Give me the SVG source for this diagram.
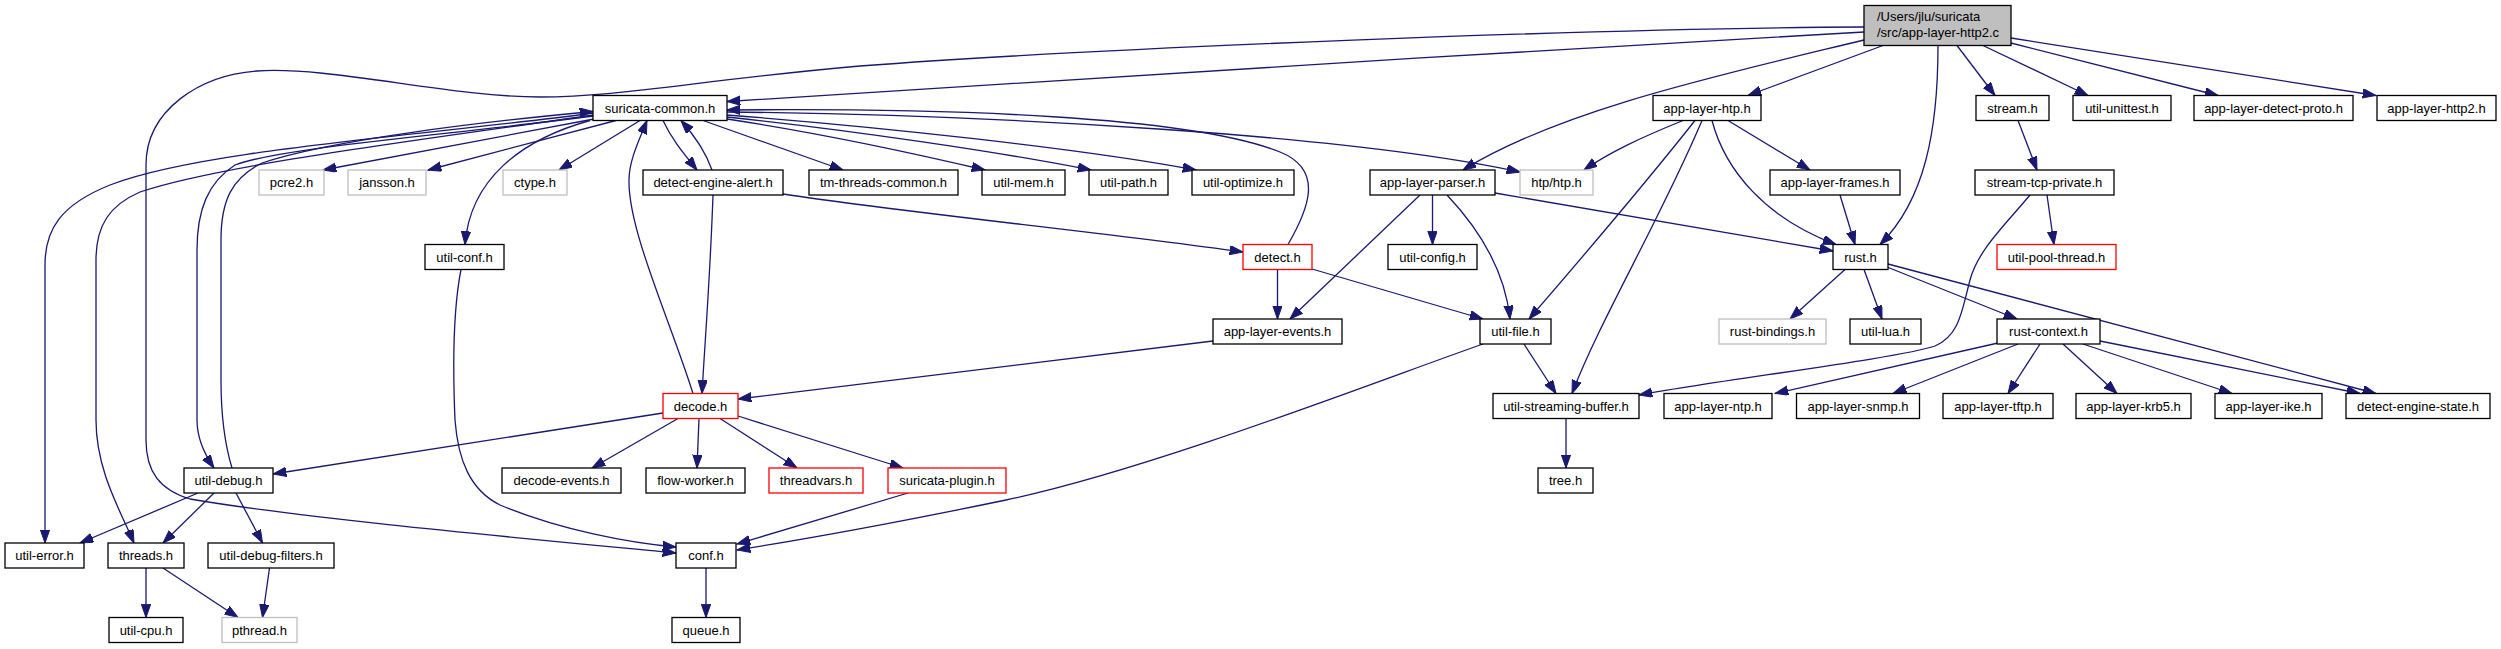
<svg xmlns="http://www.w3.org/2000/svg" width="2501" height="649" viewBox="0 0 2501 649">
<style>
.n rect{fill:#ffffff;stroke:#000000;stroke-width:1.3}
.g rect{fill:#ffffff;stroke:#bfbfbf;stroke-width:1.3}
.r rect{fill:#ffffff;stroke:#ff0000;stroke-width:1.3}
.rt rect{fill:#bfbfbf;stroke:#000000;stroke-width:1.3}
text{font-family:"Liberation Sans",Arial,Helvetica,sans-serif;font-size:13px;fill:#000000}
.c{text-anchor:middle}
#edges path{fill:none;stroke:#191970;stroke-width:1.3;marker-end:url(#ah)}
</style>
<defs>
<marker id="ah" markerUnits="userSpaceOnUse" markerWidth="14" markerHeight="10" viewBox="0 0 14 10" refX="13.3" refY="4.7" orient="auto"><path d="M0,0 L13.3,4.7 L0,9.4 z" fill="#191970" stroke="#191970" stroke-width="1"/></marker>
</defs>
<rect width="2501" height="649" fill="#ffffff"/>
<g id="edges">
<path d="M1864,32 C1500,52 1000,84 727,101.5"/>
<path d="M1864,27 C1600,28 1100,48 860,66 C700,80 620,97 540,97 C450,97 330,66 257,71 C200,75 146,110 146,165 L146,440 C146,472 160,490 190,499 C300,518 520,538 676,553"/>
<path d="M1864,40 C1720,75 1560,110 1463,170"/>
<path d="M1883,45.5 L1748,95.5"/>
<path d="M1938,45.5 C1938,130 1925,200 1880,244.5"/>
<path d="M1957,45.5 L1995,95.5"/>
<path d="M1983,45.5 L2088,95.5"/>
<path d="M2011,43 L2218,95.5"/>
<path d="M2011,38 L2376,95.5"/>
<path d="M594,119 L323,170"/>
<path d="M616,120.5 L428,170"/>
<path d="M640,120.5 L559,170"/>
<path d="M590,120.5 C520,140 470,180 465,244.5"/>
<path d="M663,120.5 C672,140 685,155 697,170"/>
<path d="M712,170 C705,150 694,135 681,120.5"/>
<path d="M703,120.5 L843,170"/>
<path d="M727,119 C800,130 900,150 985,170"/>
<path d="M727,117 C850,130 1000,152 1091,170"/>
<path d="M727,115 C870,126 1080,148 1196,170"/>
<path d="M727,112 C1000,115 1350,135 1520,172"/>
<path d="M1288,244.5 C1308,210 1325,170 1280,152 C1190,116 950,108 727,110"/>
<path d="M594,116 C420,138 280,148 235,165 C208,182 197,210 197,250 L197,420 C197,440 205,455 214,468"/>
<path d="M232,468 C225,445 221,420 221,380 L221,240 C221,200 232,178 262,163 C330,140 480,122 593,111.5"/>
<path d="M594,115 C420,140 220,165 140,192 C110,205 96,225 96,260 L96,420 C96,470 120,510 134,543"/>
<path d="M594,113 C420,136 200,150 110,185 C60,205 45,230 45,265 L45,543"/>
<path d="M713,195 C710,280 705,340 702,393.5"/>
<path d="M783,194 C900,212 1100,232 1243,252"/>
<path d="M693,393.5 C670,320 628,230 629,180 C629,160 640,138 647,120.5"/>
<path d="M1277.5,269.5 L1277.5,319"/>
<path d="M1312,269 L1483,319"/>
<path d="M1420,195 L1290,319"/>
<path d="M1432.5,195 L1432.5,244.5"/>
<path d="M1447,195 C1480,230 1505,270 1510,319"/>
<path d="M1495,193 L1833,251"/>
<path d="M1683,120.5 C1640,138 1610,152 1584,170"/>
<path d="M1695,120.5 C1640,190 1580,260 1529,319"/>
<path d="M1702,120.5 C1660,220 1600,320 1572,393.5"/>
<path d="M1712,120.5 C1725,170 1765,218 1836,244.5"/>
<path d="M1728,120.5 L1810,170"/>
<path d="M1840,195 L1855,244.5"/>
<path d="M2018,120.5 L2037,170"/>
<path d="M2047,195 L2054,244.5"/>
<path d="M2030,195 C2005,225 1978,250 1970,280 C1962,310 1960,335 1935,346 C1900,358 1720,380 1639,395"/>
<path d="M1845,269.5 L1790,319"/>
<path d="M1864,269.5 L1882,319"/>
<path d="M1887,267 L2017,319"/>
<path d="M1888,264 L2376,393.5"/>
<path d="M1998,343 L1775,393.5"/>
<path d="M2018,344 L1893,393.5"/>
<path d="M2040,344 L2008,393.5"/>
<path d="M2063,344 L2117,393.5"/>
<path d="M2083,344 L2232,393.5"/>
<path d="M2100,341 L2360,393.5"/>
<path d="M1524,344 L1556,393.5"/>
<path d="M1483,344 C1380,380 1150,470 1006,500 C900,522 800,540 737,550"/>
<path d="M908,493 L737,544"/>
<path d="M461,269.5 C455,300 452,350 455,420 C458,460 470,490 500,505 C560,530 630,543 676,547"/>
<path d="M1566,418.5 L1566,468"/>
<path d="M706,568 L706,617.5"/>
<path d="M1213,341 L738,399"/>
<path d="M663,413 L273,474"/>
<path d="M678,418.5 L592,468"/>
<path d="M699,418.5 L697,468"/>
<path d="M720,418.5 L797,468"/>
<path d="M738,416 L903,468"/>
<path d="M198,493 L80,543"/>
<path d="M214,493 L163,543"/>
<path d="M236,493 L262.5,543"/>
<path d="M146,568 L146,617.5"/>
<path d="M163,568 L238,617.5"/>
<path d="M269.5,568 L262.5,617.5"/>
</g>
<g id="root" class="rt"><rect x="1864" y="5.5" width="147" height="40"/><text x="1877" y="21">/Users/jlu/suricata</text><text x="1877" y="36.5">/src/app-layer-http2.c</text></g>
<g id="suricata-common" class="n"><rect x="593" y="95.5" width="134" height="25"/><text class="c" x="660" y="112.5">suricata-common.h</text></g>
<g id="app-layer-htp" class="n"><rect x="1653" y="95.5" width="108" height="25"/><text class="c" x="1707" y="112.5">app-layer-htp.h</text></g>
<g id="stream" class="n"><rect x="1976" y="95.5" width="73" height="25"/><text class="c" x="2012.5" y="112.5">stream.h</text></g>
<g id="util-unittest" class="n"><rect x="2073" y="95.5" width="98" height="25"/><text class="c" x="2122" y="112.5">util-unittest.h</text></g>
<g id="app-layer-detect-proto" class="n"><rect x="2194" y="95.5" width="159" height="25"/><text class="c" x="2273.5" y="112.5">app-layer-detect-proto.h</text></g>
<g id="app-layer-http2" class="n"><rect x="2377" y="95.5" width="119" height="25"/><text class="c" x="2436.5" y="112.5">app-layer-http2.h</text></g>
<g id="pcre2" class="g"><rect x="259" y="170" width="65" height="25"/><text class="c" x="291.5" y="187">pcre2.h</text></g>
<g id="jansson" class="g"><rect x="348" y="170" width="78" height="25"/><text class="c" x="387" y="187">jansson.h</text></g>
<g id="ctype" class="g"><rect x="503" y="170" width="64" height="25"/><text class="c" x="535" y="187">ctype.h</text></g>
<g id="detect-engine-alert" class="n"><rect x="643" y="170" width="140" height="25"/><text class="c" x="713" y="187">detect-engine-alert.h</text></g>
<g id="tm-threads-common" class="n"><rect x="809" y="170" width="149" height="25"/><text class="c" x="883.5" y="187">tm-threads-common.h</text></g>
<g id="util-mem" class="n"><rect x="982" y="170" width="83" height="25"/><text class="c" x="1023.5" y="187">util-mem.h</text></g>
<g id="util-path" class="n"><rect x="1089" y="170" width="79" height="25"/><text class="c" x="1128.5" y="187">util-path.h</text></g>
<g id="util-optimize" class="n"><rect x="1192" y="170" width="102" height="25"/><text class="c" x="1243" y="187">util-optimize.h</text></g>
<g id="app-layer-parser" class="n"><rect x="1370" y="170" width="125" height="25"/><text class="c" x="1432.5" y="187">app-layer-parser.h</text></g>
<g id="htp-htp" class="g"><rect x="1520" y="170" width="73" height="25"/><text class="c" x="1556.5" y="187">htp/htp.h</text></g>
<g id="app-layer-frames" class="n"><rect x="1770" y="170" width="130" height="25"/><text class="c" x="1835" y="187">app-layer-frames.h</text></g>
<g id="stream-tcp-private" class="n"><rect x="1975" y="170" width="139" height="25"/><text class="c" x="2044.5" y="187">stream-tcp-private.h</text></g>
<g id="util-conf" class="n"><rect x="425" y="244.5" width="79" height="25"/><text class="c" x="464.5" y="261.5">util-conf.h</text></g>
<g id="detect" class="r"><rect x="1243" y="244.5" width="69" height="25"/><text class="c" x="1277.5" y="261.5">detect.h</text></g>
<g id="util-config" class="n"><rect x="1388" y="244.5" width="89" height="25"/><text class="c" x="1432.5" y="261.5">util-config.h</text></g>
<g id="rust" class="n"><rect x="1833" y="244.5" width="55" height="25"/><text class="c" x="1860.5" y="261.5">rust.h</text></g>
<g id="util-pool-thread" class="r"><rect x="1997" y="244.5" width="119" height="25"/><text class="c" x="2056.5" y="261.5">util-pool-thread.h</text></g>
<g id="app-layer-events" class="n"><rect x="1213" y="319" width="129" height="25"/><text class="c" x="1277.5" y="336">app-layer-events.h</text></g>
<g id="util-file" class="n"><rect x="1480" y="319" width="71" height="25"/><text class="c" x="1515.5" y="336">util-file.h</text></g>
<g id="rust-bindings" class="g"><rect x="1719" y="319" width="107" height="25"/><text class="c" x="1772.5" y="336">rust-bindings.h</text></g>
<g id="util-lua" class="n"><rect x="1850" y="319" width="71" height="25"/><text class="c" x="1885.5" y="336">util-lua.h</text></g>
<g id="rust-context" class="n"><rect x="1997" y="319" width="103" height="25"/><text class="c" x="2048.5" y="336">rust-context.h</text></g>
<g id="decode" class="r"><rect x="663" y="393.5" width="75" height="25"/><text class="c" x="700.5" y="410.5">decode.h</text></g>
<g id="util-streaming-buffer" class="n"><rect x="1493" y="393.5" width="146" height="25"/><text class="c" x="1566" y="410.5">util-streaming-buffer.h</text></g>
<g id="app-layer-ntp" class="n"><rect x="1664" y="393.5" width="108" height="25"/><text class="c" x="1718" y="410.5">app-layer-ntp.h</text></g>
<g id="app-layer-snmp" class="n"><rect x="1796.5" y="393.5" width="123" height="25"/><text class="c" x="1858" y="410.5">app-layer-snmp.h</text></g>
<g id="app-layer-tftp" class="n"><rect x="1943" y="393.5" width="110" height="25"/><text class="c" x="1998" y="410.5">app-layer-tftp.h</text></g>
<g id="app-layer-krb5" class="n"><rect x="2076" y="393.5" width="115" height="25"/><text class="c" x="2133.5" y="410.5">app-layer-krb5.h</text></g>
<g id="app-layer-ike" class="n"><rect x="2215" y="393.5" width="107" height="25"/><text class="c" x="2268.5" y="410.5">app-layer-ike.h</text></g>
<g id="detect-engine-state" class="n"><rect x="2346" y="393.5" width="144" height="25"/><text class="c" x="2418" y="410.5">detect-engine-state.h</text></g>
<g id="util-debug" class="n"><rect x="184" y="468" width="89" height="25"/><text class="c" x="228.5" y="485">util-debug.h</text></g>
<g id="decode-events" class="n"><rect x="502" y="468" width="119" height="25"/><text class="c" x="561.5" y="485">decode-events.h</text></g>
<g id="flow-worker" class="n"><rect x="646" y="468" width="99" height="25"/><text class="c" x="695.5" y="485">flow-worker.h</text></g>
<g id="threadvars" class="r"><rect x="769" y="468" width="94" height="25"/><text class="c" x="816" y="485">threadvars.h</text></g>
<g id="suricata-plugin" class="r"><rect x="888" y="468" width="118" height="25"/><text class="c" x="947" y="485">suricata-plugin.h</text></g>
<g id="tree" class="n"><rect x="1538" y="468" width="55" height="25"/><text class="c" x="1565.5" y="485">tree.h</text></g>
<g id="util-error" class="n"><rect x="5" y="543" width="79" height="25"/><text class="c" x="44.5" y="560">util-error.h</text></g>
<g id="threads" class="n"><rect x="108" y="543" width="76" height="25"/><text class="c" x="146" y="560">threads.h</text></g>
<g id="util-debug-filters" class="n"><rect x="208" y="543" width="126" height="25"/><text class="c" x="271" y="560">util-debug-filters.h</text></g>
<g id="conf" class="n"><rect x="676" y="543" width="60" height="25"/><text class="c" x="706" y="560">conf.h</text></g>
<g id="util-cpu" class="n"><rect x="109" y="617.5" width="74" height="25"/><text class="c" x="146" y="634.5">util-cpu.h</text></g>
<g id="pthread" class="g"><rect x="222" y="617.5" width="75" height="25"/><text class="c" x="259.5" y="634.5">pthread.h</text></g>
<g id="queue" class="n"><rect x="672" y="617.5" width="68" height="25"/><text class="c" x="706" y="634.5">queue.h</text></g>
</svg>
